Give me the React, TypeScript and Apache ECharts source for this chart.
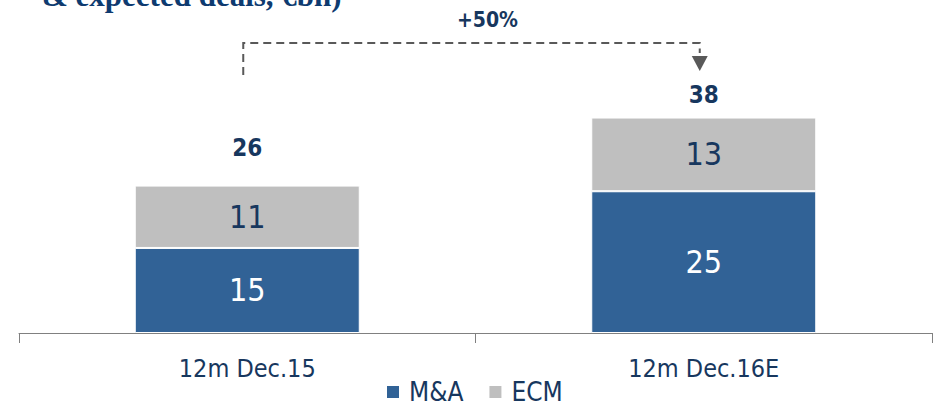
import React, { useEffect, useRef } from "react";
import * as echarts from "echarts";

const categories = ["12m Dec.15", "12m Dec.16E"];
const mnaValues = [15, 25];
const ecmValues = [11, 13];
const totals = mnaValues.map((v, i) => v + ecmValues[i]);
const growthLabel = "+50%";
const titleText = "& expected deals, €bn)";

const NAVY = "#17375E";
const BLUE = "#316296";
const GRAY = "#BFBFBF";
const FONT = "'DejaVu Sans Condensed', 'Liberation Sans Narrow', 'DejaVu Sans', sans-serif";
const totalOffsets = [-38, -23];

export default function App() {
  const ref = useRef<HTMLDivElement>(null);
  useEffect(() => {
    document.body.style.margin = "0";
    const chart = echarts.init(ref.current!, null, { renderer: "svg" });
    chart.setOption({
      animation: false,
      grid: { left: 19, right: 1, top: 49.5, bottom: 74, containLabel: false },
      legend: {
        left: 385,
        top: 379,
        padding: 0,
        icon: "rect",
        itemWidth: 14,
        itemHeight: 14,
        itemGap: 24,
        textStyle: { fontFamily: FONT, fontSize: 26, lineHeight: 26, color: NAVY, padding: [0, 0, 0, 4] },
        data: ["M&A", "ECM"],
      },
      xAxis: {
        type: "category",
        data: categories,
        axisLine: { lineStyle: { color: "#808080", width: 1 } },
        axisTick: { show: true, length: 10, lineStyle: { color: "#808080" } },
        axisLabel: { fontFamily: FONT, fontSize: 25, color: NAVY, margin: 23 },
      },
      yAxis: { type: "value", min: 0, max: 50, show: false, splitLine: { show: false } },
      series: [
        {
          name: "M&A",
          type: "bar",
          stack: "t",
          barWidth: 225,
          data: mnaValues,
          itemStyle: { color: BLUE, borderColor: "#fff", borderWidth: 1 },
          label: { show: true, position: "inside", fontFamily: FONT, fontSize: 32, color: "#fff", textBorderWidth: 0 },
        },
        {
          name: "ECM",
          type: "bar",
          stack: "t",
          barWidth: 225,
          data: ecmValues,
          itemStyle: { color: GRAY, borderColor: "#fff", borderWidth: 1 },
          label: { show: true, position: "inside", fontFamily: FONT, fontSize: 32, color: NAVY, textBorderWidth: 0 },
        },
        {
          name: "Total",
          type: "scatter",
          symbolSize: 0,
          itemStyle: { color: NAVY, opacity: 1 },
          data: totals.map((v, i) => ({
            value: [i, v],
            label: { offset: [0, totalOffsets[i]] },
          })),
          label: {
            show: true,
            position: "inside",
            fontFamily: FONT,
            fontSize: 24,
            fontWeight: "bold",
            color: NAVY,
            opacity: 1,
            textBorderWidth: 0,
            formatter: (p: any) => String(p.value[1]),
          },
          tooltip: { show: false },
        },
      ],
    });

    const p0 = chart.convertToPixel({ xAxisIndex: 0 }, 0) as number;
    const p1 = chart.convertToPixel({ xAxisIndex: 0 }, 1) as number;
    const lx = p0 - 4;
    const rx = p1 - 4;
    const hy = 43;
    const dash = { stroke: "#595959", lineWidth: 2, lineDash: [8, 5] };
    chart.setOption({
      graphic: [
        {
          type: "text",
          left: 42,
          top: -20,
          style: {
            text: titleText,
            font: "bold 31px 'Liberation Serif', 'Times New Roman', serif",
            fill: "#0E3B70",
          },
        },
        {
          type: "text",
          x: (lx + rx) / 2 + 16,
          y: 20,
          style: {
            text: growthLabel,
            font: `bold 21px ${FONT}`,
            fill: NAVY,
            align: "center",
            verticalAlign: "middle",
          },
        },
        { type: "polyline", shape: { points: [[lx, 75], [lx, hy], [rx, hy], [rx, 53]] }, style: { ...dash, fill: null } },
        {
          type: "polygon",
          shape: { points: [[rx - 8, 56], [rx + 8, 56], [rx, 71]] },
          style: { fill: "#595959" },
        },
      ],
    });
    return () => chart.dispose();
  }, []);
  return <div ref={ref} style={{ width: 933, height: 407 }} />;
}
